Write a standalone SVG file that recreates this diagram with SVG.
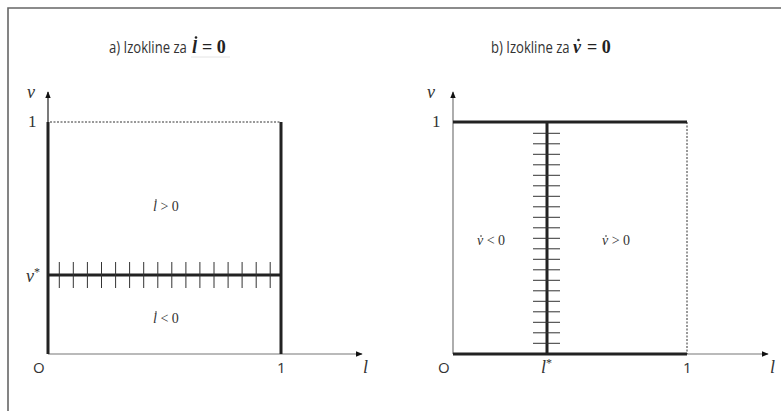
<svg xmlns="http://www.w3.org/2000/svg" width="781" height="411" viewBox="0 0 781 411">
<defs>
<style>
.frame{stroke:#666;stroke-width:1.6;fill:none}
.thick{stroke:#222;stroke-width:3;fill:none}
.axis{stroke:#777;stroke-width:1.2;fill:none}
.axisk{stroke:#222;stroke-width:1.2;fill:none}
.dash{stroke:#333;stroke-width:1;stroke-dasharray:2 1.5;fill:none}
.tick{stroke:#333;stroke-width:1}
.title{font-family:"Open Sans","Liberation Sans",sans-serif;font-size:17px;fill:#333}
.math{font-family:"Liberation Serif","DejaVu Serif",serif;font-weight:bold;font-size:18px;fill:#222}
.mi{font-style:italic}
.var{font-family:"Liberation Serif","DejaVu Serif",serif;font-style:italic;font-size:18px;fill:#333}
.num{font-family:"Liberation Serif","DejaVu Serif",serif;font-size:17px;fill:#333}
.sans{font-family:"Open Sans","Liberation Sans",sans-serif;font-size:15px;fill:#333}
.reg{font-family:"Liberation Serif","DejaVu Serif",serif;font-size:14px;fill:#333}
.dot{fill:#222}
</style>
<marker id="arr" viewBox="0 0 10 10" refX="9" refY="5" markerWidth="7" markerHeight="7" markerUnits="userSpaceOnUse" orient="auto">
<path d="M0,1 L10,5 L0,9 z" fill="#111"/>
</marker>
</defs>
<path class="frame" d="M8,411 V8 H781"/>

<g id="panel-a">
<text class="title" transform="translate(109,53) scale(0.77,1)" x="0" y="0">a) Izokline za</text>
<text class="math mi" x="192" y="53">l</text>
<text class="math" x="202" y="53">= 0</text>
<circle class="dot" cx="196" cy="37.5" r="1.3"/>
<line x1="191" y1="57" x2="230" y2="57" stroke="#ddd" stroke-width="0.8"/>
<g id="a-axes">
<line class="axisk" x1="48" y1="354" x2="48" y2="92" marker-end="url(#arr)"/>
<line class="axis" x1="48" y1="354" x2="362" y2="354" marker-end="url(#arr)"/>
</g>
<line class="dash" x1="50" y1="122" x2="281" y2="122"/>
<path class="thick" d="M48,122 V354 M281,122 V354 M48,275 H281"/>
<g id="a-ticks" class="tick">
<path d="M59.3,262V288 M73.3,262V288 M87.4,262V288 M101.5,262V288 M115.6,262V288 M129.6,262V288 M143.7,262V288 M157.8,262V288 M171.8,262V288 M185.9,262V288 M199.9,262V288 M214,262V288 M228.1,262V288 M242.1,262V288 M256.2,262V288 M270.2,262V288"/>
</g>
<text class="var" x="27" y="98">v</text>
<text class="num" x="28" y="127">1</text>
<text class="var" x="26" y="282">v<tspan font-style="normal" font-size="12" dy="-6">*</tspan></text>
<text class="sans" x="33" y="373">O</text>
<text class="sans" x="277" y="373">1</text>
<text class="var" x="363" y="373">l</text>
<text class="reg" x="153" y="211"><tspan font-style="italic">l</tspan> &gt; 0</text>
<circle class="dot" cx="156" cy="200" r="0.8"/>
<text class="reg" x="153" y="323"><tspan font-style="italic">l</tspan> &lt; 0</text>
<circle class="dot" cx="156" cy="312" r="0.8"/>
</g>

<g id="panel-b">
<text class="title" transform="translate(491,53) scale(0.77,1)" x="0" y="0">b) Izokline za</text>
<text class="math mi" x="573" y="53">v</text>
<text class="math" x="587" y="53">= 0</text>
<circle class="dot" cx="578.5" cy="40" r="1.3"/>
<g id="b-axes">
<line class="axis" x1="453" y1="354" x2="453" y2="92" marker-end="url(#arr)"/>
<line class="axis" x1="687" y1="354" x2="768" y2="354" marker-end="url(#arr)"/>
</g>
<line class="dash" x1="687" y1="122" x2="687" y2="354"/>
<path class="thick" d="M453,122 H687 M453,354 H687 M547,122 V354"/>
<g id="b-ticks" class="tick">
<path d="M533,133.3H560 M533,143.8H560 M533,154.3H560 M533,164.8H560 M533,175.3H560 M533,185.8H560 M533,196.3H560 M533,206.8H560 M533,217.3H560 M533,227.8H560 M533,238.3H560 M533,248.8H560 M533,259.3H560 M533,269.8H560 M533,280.3H560 M533,290.8H560 M533,301.3H560 M533,311.8H560 M533,322.3H560 M533,332.8H560 M533,343.3H560"/>
</g>
<text class="var" x="427" y="98">v</text>
<text class="num" x="432" y="127">1</text>
<text class="sans" x="438" y="373">O</text>
<text class="var" x="541" y="373">l<tspan font-style="normal" font-size="12" dy="-6">*</tspan></text>
<text class="sans" x="683" y="373">1</text>
<text class="var" x="770" y="373">l</text>
<text class="reg" x="477" y="245"><tspan font-style="italic">v</tspan> &lt; 0</text>
<circle class="dot" cx="481" cy="236" r="0.8"/>
<text class="reg" x="602" y="245"><tspan font-style="italic">v</tspan> &gt; 0</text>
<circle class="dot" cx="606" cy="236" r="0.8"/>
</g>
</svg>
